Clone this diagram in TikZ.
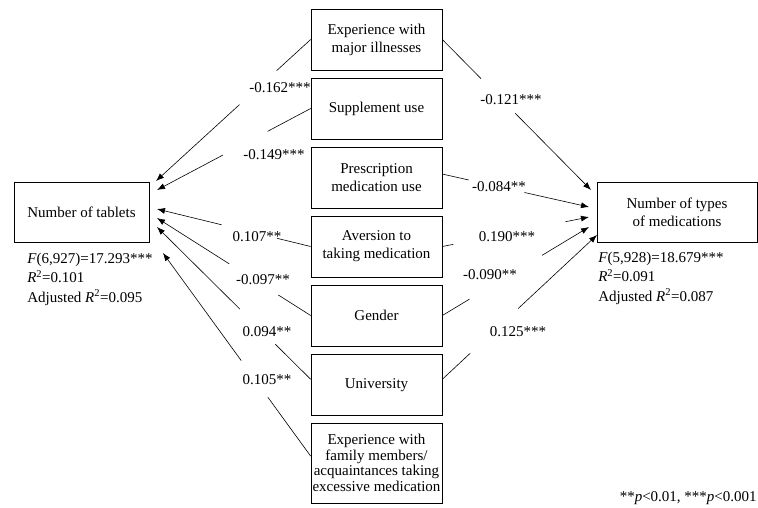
\documentclass[tikz,border=0pt]{standalone}
\usepackage{fontspec}
\setmainfont{Liberation Serif}
\usetikzlibrary{arrows.meta,calc}

\begin{document}
\begin{tikzpicture}[x=1pt,y=-1pt,line width=0.6pt,
    font=\fontsize{15}{18}\selectfont,
    box/.style={draw,line width=0.7pt,inner sep=1pt,align=center,minimum width=#1,minimum height=61pt},
    box/.default=131pt,
    coef/.style={inner sep=0pt},
    fit/.style={anchor=west,align=left,inner sep=0pt,font=\fontsize{15}{19.5}\selectfont},
    arr/.style={-{Latex[length=8pt,width=6pt]}}]
    \useasboundingbox (0,0) rectangle (758,507);
    % outcomes
    \node[box=135pt,minimum height=60pt] (tab) at (81.5,212) {Number of tablets};
    \node[box=160pt,minimum height=60pt] (typ) at (677,212) {Number of types\\of medications};
    % predictors
    \node[box] (m1) at (376.5,39.5) {Experience with\\major illnesses};
    \node[box] (m2) at (376.5,108.5) {Supplement use};
    \node[box] (m3) at (376.5,177.5) {Prescription\\medication use};
    \node[box] (m4) at (376.5,246.5) {Aversion to\\taking medication};
    \node[box] (m5) at (376.5,315.5) {Gender};
    \node[box] (m6) at (376.5,385) {University};
    \node[box,minimum height=80pt,inner sep=0pt,font=\fontsize{15}{15.5}\selectfont] (m7) at (376.5,463)
        {Experience with\\family members/\\acquaintances taking\\excessive medication};
    % arrow tips
    \coordinate (tL1) at (156,181);
    \coordinate (tL2) at (157,190);
    \coordinate (tL4) at (157,209);
    \coordinate (tL5) at (157,218);
    \coordinate (tL6) at (157,227);
    \coordinate (tL7) at (163,253);
    \coordinate (tR1) at (591,190);
    \coordinate (tR3) at (589,207);
    \coordinate (tR4) at (589,217);
    \coordinate (tR5) at (589,227);
    \coordinate (tR6) at (597,235);
    % paths to number of tablets
    \draw (m1.west) -- ($(m1.west)!0.22!(tL1)$);
    \draw[arr] ($(m1.west)!0.46!(tL1)$) -- (tL1);
    \draw (m2.west) -- ($(m2.west)!0.28!(tL2)$);
    \draw[arr] ($(m2.west)!0.57!(tL2)$) -- (tL2);
    \draw (m4.west) -- ($(m4.west)!0.22!(tL4)$);
    \draw[arr] ($(m4.west)!0.58!(tL4)$) -- (tL4);
    \draw (m5.west) -- ($(m5.west)!0.21!(tL5)$);
    \draw[arr] ($(m5.west)!0.53!(tL5)$) -- (tL5);
    \draw (m6.175) -- ($(m6.175)!0.23!(tL6)$);
    \draw[arr] ($(m6.175)!0.46!(tL6)$) -- (tL6);
    \draw (m7.174) -- ($(m7.174)!0.29!(tL7)$);
    \draw[arr] ($(m7.174)!0.47!(tL7)$) -- (tL7);
    % paths to number of types of medications
    \draw (m1.east) -- ($(m1.east)!0.26!(tR1)$);
    \draw[arr] ($(m1.east)!0.49!(tR1)$) -- (tR1);
    \draw (m3.3) -- ($(m3.3)!0.18!(tR3)$);
    \draw[arr] ($(m3.3)!0.56!(tR3)$) -- (tR3);
    \draw (m4.east) -- ($(m4.east)!0.075!(tR4)$);
    \draw[arr] ($(m4.east)!0.84!(tR4)$) -- (tR4);
    \draw (m5.east) -- ($(m5.east)!0.185!(tR5)$);
    \draw[arr] ($(m5.east)!0.68!(tR5)$) -- (tR5);
    \draw (m6.5) -- ($(m6.5)!0.18!(tR6)$);
    \draw[arr] ($(m6.5)!0.49!(tR6)$) -- (tR6);
    % coefficients
    \node[coef] (c1L) at (280,88) {-0.162***};
    \node[coef] (c2L) at (274,155) {-0.149***};
    \node[coef] (c4L) at (257,237) {0.107**};
    \node[coef] (c5L) at (263,280) {-0.097**};
    \node[coef] (c6L) at (267,332) {0.094**};
    \node[coef] (c7L) at (267,380) {0.105**};
    \node[coef] (c1R) at (511,100) {-0.121***};
    \node[coef] (c3R) at (499,187) {-0.084**};
    \node[coef] (c4R) at (507,237) {0.190***};
    \node[coef] (c5R) at (490,275) {-0.090**};
    \node[coef] (c6R) at (518,332) {0.125***};
    % model fit
    \node[fit] (fitL) at (27,279) {\textit{F}(6,927)=17.293***\\\textit{R}\textsuperscript{2}=0.101\\Adjusted \textit{R}\textsuperscript{2}=0.095};
    \node[fit] (fitR) at (598,278) {\textit{F}(5,928)=18.679***\\\textit{R}\textsuperscript{2}=0.091\\Adjusted \textit{R}\textsuperscript{2}=0.087};
    \node[anchor=east,inner sep=0pt] (note) at (757,498) {**\textit{p}<0.01, ***\textit{p}<0.001};
\end{tikzpicture}
\end{document}
